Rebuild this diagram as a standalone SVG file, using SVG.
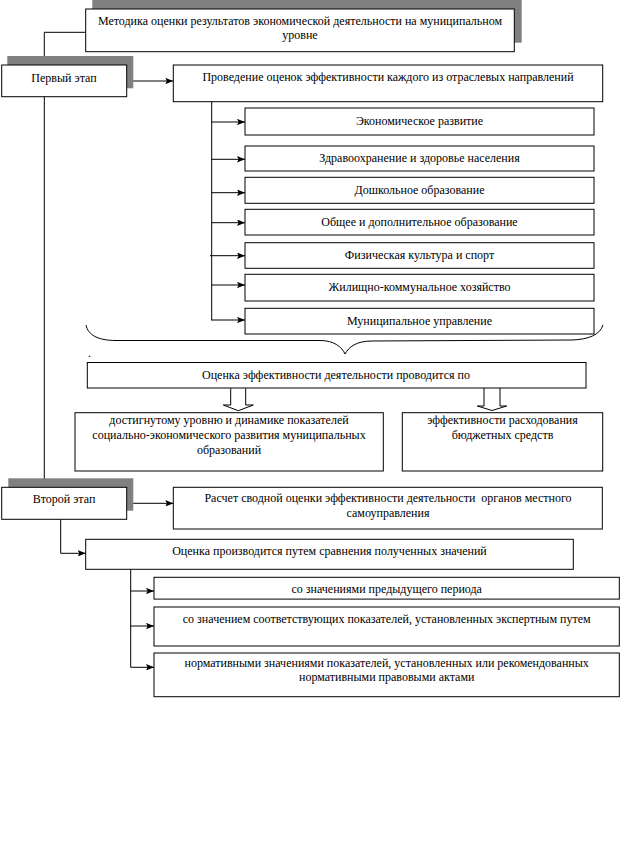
<svg xmlns="http://www.w3.org/2000/svg" width="634" height="842" viewBox="0 0 634 842">
<style>
.bx{fill:#fff;stroke:#000;stroke-width:1}
.sh{fill:#808080;stroke:none}
.t{font-family:"Liberation Serif","Times New Roman",serif;font-size:12px;fill:#000;text-anchor:middle}
.ln{fill:none;stroke:#000;stroke-width:1}
.ha{fill:#fff;stroke:#000;stroke-width:1}
</style>
<defs>
<marker id="ar" viewBox="0 0 10 8" refX="10" refY="4" markerWidth="8" markerHeight="6.4" markerUnits="userSpaceOnUse" orient="auto">
<path d="M0,0 L10,4 L0,8 L2,4 Z" fill="#000"/>
</marker>
</defs>
<rect width="634" height="842" fill="#fff"/>

<g id="connectors">
<polyline class="ln" points="85.7,32.3 44.3,32.3 44.3,65"/>
<line class="ln" x1="126.7" y1="81" x2="173.3" y2="81" marker-end="url(#ar)"/>
<line class="ln" x1="44.3" y1="96.7" x2="44.3" y2="487.3" marker-end="url(#ar)"/>
<line class="ln" x1="211.7" y1="101.7" x2="211.7" y2="320.5"/>
<line class="ln" x1="211.7" y1="122" x2="245" y2="122" marker-end="url(#ar)"/>
<line class="ln" x1="211.7" y1="159.3" x2="245" y2="159.3" marker-end="url(#ar)"/>
<line class="ln" x1="211.7" y1="192.7" x2="245" y2="192.7" marker-end="url(#ar)"/>
<line class="ln" x1="211.7" y1="222.7" x2="245" y2="222.7" marker-end="url(#ar)"/>
<line class="ln" x1="210" y1="255.7" x2="245" y2="255.7" marker-end="url(#ar)"/>
<line class="ln" x1="211.7" y1="285" x2="245" y2="285" marker-end="url(#ar)"/>
<line class="ln" x1="211.7" y1="320" x2="245" y2="320" marker-end="url(#ar)"/>
<path class="ln" d="M86,325 C88,335 98,340.5 116,340.5 L320,340.5 C334,340.5 342,347 345,354 C349,347 356,341 372,341 L572,340 C588,339.5 600,335 603,325"/>
<path class="ha" d="M230.7,388.3 L230.7,405 L223.3,405 L238.3,410.7 L253.3,405 L245.7,405 L245.7,388.3"/>
<path class="ha" d="M484,387.7 L484,406 L477.3,406 L492,410.5 L506.7,406 L500,406 L500,387.7"/>
<line class="ln" x1="126.7" y1="503.3" x2="173.3" y2="503.3" marker-end="url(#ar)"/>
<polyline class="ln" points="60.7,519.3 60.7,553.3 85.7,553.3" marker-end="url(#ar)"/>
<line class="ln" x1="130.7" y1="569.3" x2="130.7" y2="667.3"/>
<line class="ln" x1="130.7" y1="591" x2="154" y2="591" marker-end="url(#ar)"/>
<line class="ln" x1="130.7" y1="626" x2="154" y2="626" marker-end="url(#ar)"/>
<line class="ln" x1="130.7" y1="667.3" x2="154" y2="667.3" marker-end="url(#ar)"/>
</g>

<g id="title">
<rect class="sh" x="92.3" y="0" width="429.4" height="42.7"/>
<rect class="bx" x="85.7" y="9" width="428.6" height="42.7"/>
<text class="t" x="300" y="25">Методика оценки результатов экономической деятельности на муниципальном</text>
<text class="t" x="300" y="39">уровне</text>
</g>

<g id="stage1">
<rect class="sh" x="7.3" y="56" width="126" height="32.3"/>
<rect class="bx" x="1.7" y="65" width="125" height="31.7"/>
<text class="t" x="64" y="82">Первый этап</text>
</g>

<g id="assess">
<rect class="bx" x="173.3" y="65" width="429.4" height="36.7"/>
<text class="t" x="388" y="81">Проведение оценок эффективности каждого из отраслевых направлений</text>
</g>

<g id="s1"><rect class="bx" x="245" y="108" width="349" height="27"/><text class="t" x="419.5" y="125">Экономическое развитие</text></g>
<g id="s2"><rect class="bx" x="245" y="146" width="349" height="25"/><text class="t" x="419.5" y="162">Здравоохранение и здоровье населения</text></g>
<g id="s3"><rect class="bx" x="245" y="177.3" width="349" height="26"/><text class="t" x="419.5" y="194">Дошкольное образование</text></g>
<g id="s4"><rect class="bx" x="245" y="209.3" width="349" height="25.7"/><text class="t" x="419.5" y="226">Общее и дополнительное образование</text></g>
<g id="s5"><rect class="bx" x="245" y="242.7" width="349" height="25.6"/><text class="t" x="419.5" y="259">Физическая культура и спорт</text></g>
<g id="s6"><rect class="bx" x="245" y="274.3" width="349" height="26.7"/><text class="t" x="419.5" y="291">Жилищно-коммунальное хозяйство</text></g>
<g id="s7"><rect class="bx" x="245" y="308.3" width="349" height="25.7"/><text class="t" x="419.5" y="325">Муниципальное управление</text></g>

<text class="t" x="88" y="357" style="text-anchor:start">.</text>

<g id="eval">
<rect class="bx" x="87.3" y="362.5" width="498.7" height="25.5"/>
<text class="t" x="336" y="379">Оценка эффективности деятельности проводится по</text>
</g>

<g id="level">
<rect class="bx" x="75" y="412.7" width="308.3" height="58.3"/>
<text class="t" x="229" y="424">достигнутому уровню и динамике показателей</text>
<text class="t" x="229" y="439">социально-экономического развития муниципальных</text>
<text class="t" x="229" y="454">образований</text>
</g>

<g id="budget">
<rect class="bx" x="402.3" y="412.7" width="200.4" height="58.3"/>
<text class="t" x="502.5" y="424">эффективности расходования</text>
<text class="t" x="502.5" y="439">бюджетных средств</text>
</g>

<g id="stage2">
<rect class="sh" x="8.3" y="478.3" width="125" height="32.4"/>
<rect class="bx" x="1.7" y="487.3" width="125" height="32"/>
<text class="t" x="64" y="503">Второй этап</text>
</g>

<g id="summary">
<rect class="bx" x="173.3" y="487.3" width="429" height="41.7"/>
<text class="t" x="388" y="502" xml:space="preserve">Расчет сводной оценки эффективности деятельности  органов местного</text>
<text class="t" x="388" y="517">самоуправления</text>
</g>

<g id="compare">
<rect class="bx" x="85.7" y="539.3" width="487.6" height="30"/>
<text class="t" x="329.5" y="555">Оценка производится путем сравнения полученных значений</text>
</g>

<g id="c1"><rect class="bx" x="154" y="577.3" width="465.3" height="21.8"/><text class="t" x="386.7" y="593">со значениями предыдущего периода</text></g>
<g id="c2"><rect class="bx" x="154" y="607" width="465.3" height="39"/><text class="t" x="386.7" y="623">со значением соответствующих показателей, установленных экспертным путем</text></g>
<g id="c3"><rect class="bx" x="154" y="653" width="465.3" height="43.7"/><text class="t" x="386.7" y="667">нормативными значениями показателей, установленных или рекомендованных</text><text class="t" x="386.7" y="681">нормативными правовыми актами</text></g>
</svg>
